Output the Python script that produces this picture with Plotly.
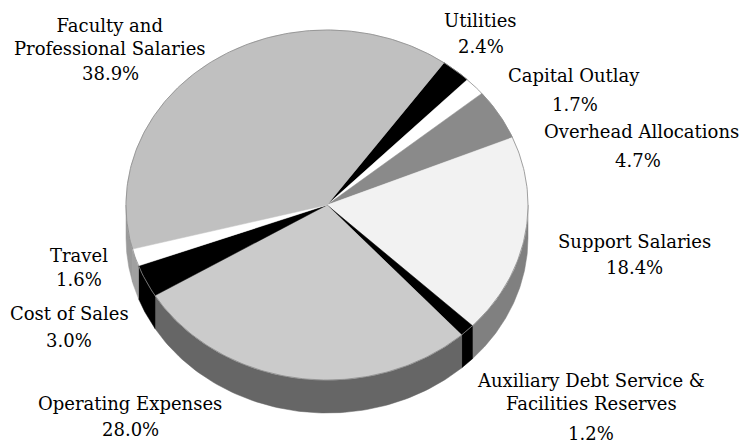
import numpy as np
import plotly.graph_objects as go

# Data (clockwise from the top-right boundary)
categories = ["Utilities", "Capital Outlay", "Overhead Allocations", "Support Salaries",
              "Auxiliary Debt Service &<br>Facilities Reserves", "Operating Expenses",
              "Cost of Sales", "Travel", "Faculty and<br>Professional Salaries"]
values = [2.4, 1.7, 4.7, 18.4, 1.2, 28.0, 3.0, 1.6, 38.9]

# Styles
top_colors = ["#000000", "#ffffff", "#8a8a8a", "#f2f2f2", "#000000",
              "#cbcbcb", "#000000", "#ffffff", "#c0c0c0"]
side_colors = ["#000000", "#a6a6a6", "#5a5a5a", "#808080", "#000000",
               "#666666", "#000000", "#a0a0a0", "#9a9a9a"]

# Label positions (name center x, name center y, pct center x, pct center y)
label_pos = [
    (480, 20, 481, 46),
    (574, 75, 575, 104),
    (641, 131, 638, 160),
    (634, 241, 634, 267),
    (591, 392, 591, 433),
    (130, 403, 130, 429),
    (69, 313, 69, 340),
    (79, 255, 79, 279),
    (110, 37, 110, 73),
]

cx, cy, rx, ry, depth = 327.0, 205.0, 201.0, 175.0, 33.0
start_deg = 54.4

total = sum(values)
fig = go.Figure()


def pt(t, dy=0.0):
    r = np.radians(t)
    return cx + rx * np.cos(r), cy - ry * np.sin(r) + dy


spans = []
a = start_deg
for v in values:
    b = a - 360.0 * v / total
    spans.append((b, a))
    a = b

# Side walls (front half only)
for (lo, hi), col in zip(spans, side_colors):
    for wlo, whi in [(-180, 0), (180, 360), (-540, -360)]:
        s, e = max(lo, wlo), min(hi, whi)
        if e - s <= 0.01:
            continue
        ts = np.linspace(s, e, 80)
        xt, yt = pt(ts)
        xb, yb = pt(ts[::-1], depth)
        xs = np.concatenate([xt, xb, xt[:1]])
        ys = np.concatenate([yt, yb, yt[:1]])
        fig.add_trace(go.Scatter(x=xs, y=ys, mode="lines", fill="toself",
                                 fillcolor=col, line=dict(color=col, width=0.5),
                                 hoverinfo="skip"))

# Tops
for (lo, hi), col in zip(spans, top_colors):
    ts = np.linspace(hi, lo, max(10, int((hi - lo) * 2)))
    xa, ya = pt(ts)
    xs = np.concatenate([[cx], xa, [cx]])
    ys = np.concatenate([[cy], ya, [cy]])
    fig.add_trace(go.Scatter(x=xs, y=ys, mode="lines", fill="toself",
                             fillcolor=col, line=dict(color=col, width=0.5),
                             hoverinfo="skip"))

# Thin outline around top ellipse
ts = np.linspace(0, 360, 361)
xo, yo = pt(ts)
fig.add_trace(go.Scatter(x=xo, y=yo, mode="lines", line=dict(color="#8a8a8a", width=0.8),
                         hoverinfo="skip"))

font = dict(family="DejaVu Serif", size=18, color="#000000")
for name, v, (nx, ny, px, py) in zip(categories, values, label_pos):
    fig.add_annotation(x=nx, y=ny, text=name, showarrow=False, font=font,
                       xanchor="center", yanchor="middle", align="center")
    fig.add_annotation(x=px, y=py, text=f"{v:.1f}%", showarrow=False, font=font,
                       xanchor="center", yanchor="middle", align="center")

fig.update_layout(
    width=746, height=445,
    margin=dict(l=0, r=0, t=0, b=0),
    paper_bgcolor="white", plot_bgcolor="white",
    showlegend=False,
    xaxis=dict(range=[0, 746], visible=False, fixedrange=True),
    yaxis=dict(range=[445, 0], visible=False, fixedrange=True),
)

fig.write_html("out.html", config={"displayModeBar": False},
               post_script="document.body.style.margin='0';document.body.style.overflow='hidden';")
